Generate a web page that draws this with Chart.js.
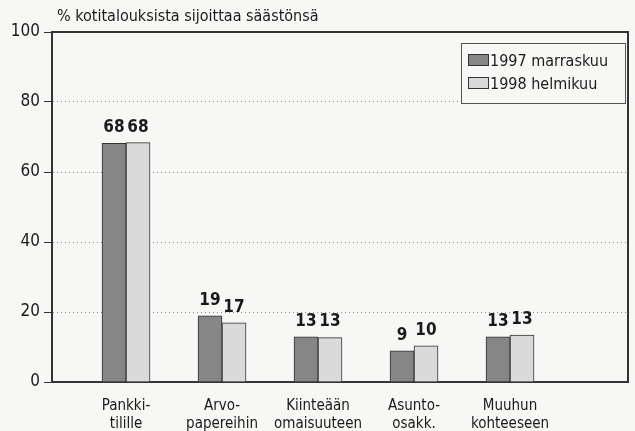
<!DOCTYPE html>
<html>
<head>
<meta charset="utf-8">
<script src="https://cdn.jsdelivr.net/npm/chart.js@4.4.1/dist/chart.umd.min.js"></script>
<style>
  html, body { margin: 0; padding: 0; background: #f7f7f5; }
  #wrap { width: 635px; height: 431px; }
</style>
</head>
<body>
<div id="wrap"><canvas id="chart" width="635" height="431"></canvas></div>
<script>
const categories = [['Pankki-', 'tilille'], ['Arvo-', 'papereihin'], ['Kiinteään', 'omaisuuteen'], ['Asunto-', 'osakk.'], ['Muuhun', 'kohteeseen']]
const seriesNames = ['1997 marraskuu', '1998 helmikuu']
const values1997 = [68.2, 18.9, 12.9, 8.9, 12.9]
const values1998 = [68.4, 16.9, 12.7, 10.3, 13.4]
const yTicks = [0, 20, 40, 60, 80, 100]
const titleText = '% kotitalouksista sijoittaa säästönsä'

const FONT = "'Liberation Sans Narrow', 'DejaVu Sans Condensed', Roboto, sans-serif"
const TEXT = '#1a1a1a'
const LINE = '#333333'
const fills = ['#868686', '#dadada']

Chart.defaults.font.family = FONT
Chart.defaults.color = TEXT

function toPoints(vals) {
    return vals.map(function(v, i) { return { x: i, y: v } })
}

// title, top/right frame, legend box and value labels
const decorations = {
    id: 'decorations',
    afterDatasetsDraw(chart) {
        const ctx = chart.ctx
        const area = chart.chartArea
        ctx.save()

        // frame on top and right
        ctx.strokeStyle = LINE
        ctx.lineWidth = 2
        ctx.beginPath()
        ctx.moveTo(area.left, area.top)
        ctx.lineTo(area.right, area.top)
        ctx.lineTo(area.right, area.bottom)
        ctx.stroke()

        // title
        ctx.fillStyle = TEXT
        ctx.font = '16px ' + FONT
        ctx.textAlign = 'left'
        ctx.textBaseline = 'alphabetic'
        ctx.fillText(titleText, area.left + 5, 21)

        // value labels
        ctx.font = 'bold 17px ' + FONT
        ctx.textAlign = 'center'
        ctx.textBaseline = 'bottom'
        chart.data.datasets.forEach(function(ds, di) {
            chart.getDatasetMeta(di).data.forEach(function(bar, i) {
                ctx.fillText(String(Math.round(ds.data[i].y)), bar.x, bar.y - 7)
            })
        })

        // legend
        const bx = area.right - 167, by = area.top + 11, bw = 164, bh = 60
        ctx.fillStyle = '#f7f7f5'
        ctx.fillRect(bx, by, bw, bh)
        ctx.strokeStyle = '#555'
        ctx.lineWidth = 1
        ctx.strokeRect(bx + 0.5, by + 0.5, bw, bh)
        ctx.font = '16px ' + FONT
        ctx.textAlign = 'left'
        ctx.textBaseline = 'alphabetic'
        seriesNames.forEach(function(name, i) {
            const sy = by + 11 + i * 23
            ctx.fillStyle = fills[i]
            ctx.fillRect(bx + 7, sy, 20, 11)
            ctx.strokeStyle = LINE
            ctx.strokeRect(bx + 7.5, sy + 0.5, 20, 11)
            ctx.fillStyle = TEXT
            ctx.fillText(name, bx + 29, sy + 12)
        })
        ctx.restore()
    }
}

const ctx = document.getElementById('chart').getContext('2d')
new Chart(ctx, {
    type: 'bar',
    data: {
        datasets: [
            { label: seriesNames[0], data: toPoints(values1997), backgroundColor: fills[0], borderColor: LINE, borderWidth: 1 },
            { label: seriesNames[1], data: toPoints(values1998), backgroundColor: fills[1], borderColor: LINE, borderWidth: 1 }
        ]
    },
    options: {
        responsive: false,
        animation: false,
        barThickness: 24,
        layout: { padding: { left: 0, right: 7, top: 32, bottom: 0 } },
        plugins: { legend: { display: false }, tooltip: { enabled: false } },
        scales: {
            x: {
                type: 'linear',
                offset: false,
                min: -0.771,
                max: 5.229,
                grid: { display: false, offset: false },
                border: { display: true, color: LINE, width: 2 },
                afterBuildTicks: function(scale) {
                    scale.ticks = categories.map(function(c, i) { return { value: i } })
                },
                afterFit: function(scale) { scale.height = 49 },
                ticks: {
                    autoSkip: false,
                    maxRotation: 0,
                    padding: 7,
                    font: { size: 15, lineHeight: 1.2 },
                    callback: function(v) { return categories[v] }
                }
            },
            y: {
                min: 0,
                max: 100,
                afterBuildTicks: function(scale) {
                    scale.ticks = yTicks.map(function(v) { return { value: v } })
                },
                afterFit: function(scale) { scale.width = 52 },
                border: { display: true, color: LINE, width: 2, dash: [1, 3] },
                grid: {
                    color: function(c) {
                        const v = c.tick && c.tick.value
                        return (v === 0 || v === 100) ? 'rgba(0,0,0,0)' : '#8a8a8a'
                    },
                    tickColor: LINE,
                    tickLength: 8,
                    tickBorderDash: [],
                    lineWidth: 1
                },
                ticks: { padding: 4, font: { size: 17 } }
            }
        }
    },
    plugins: [decorations]
})
</script>
</body>
</html>
